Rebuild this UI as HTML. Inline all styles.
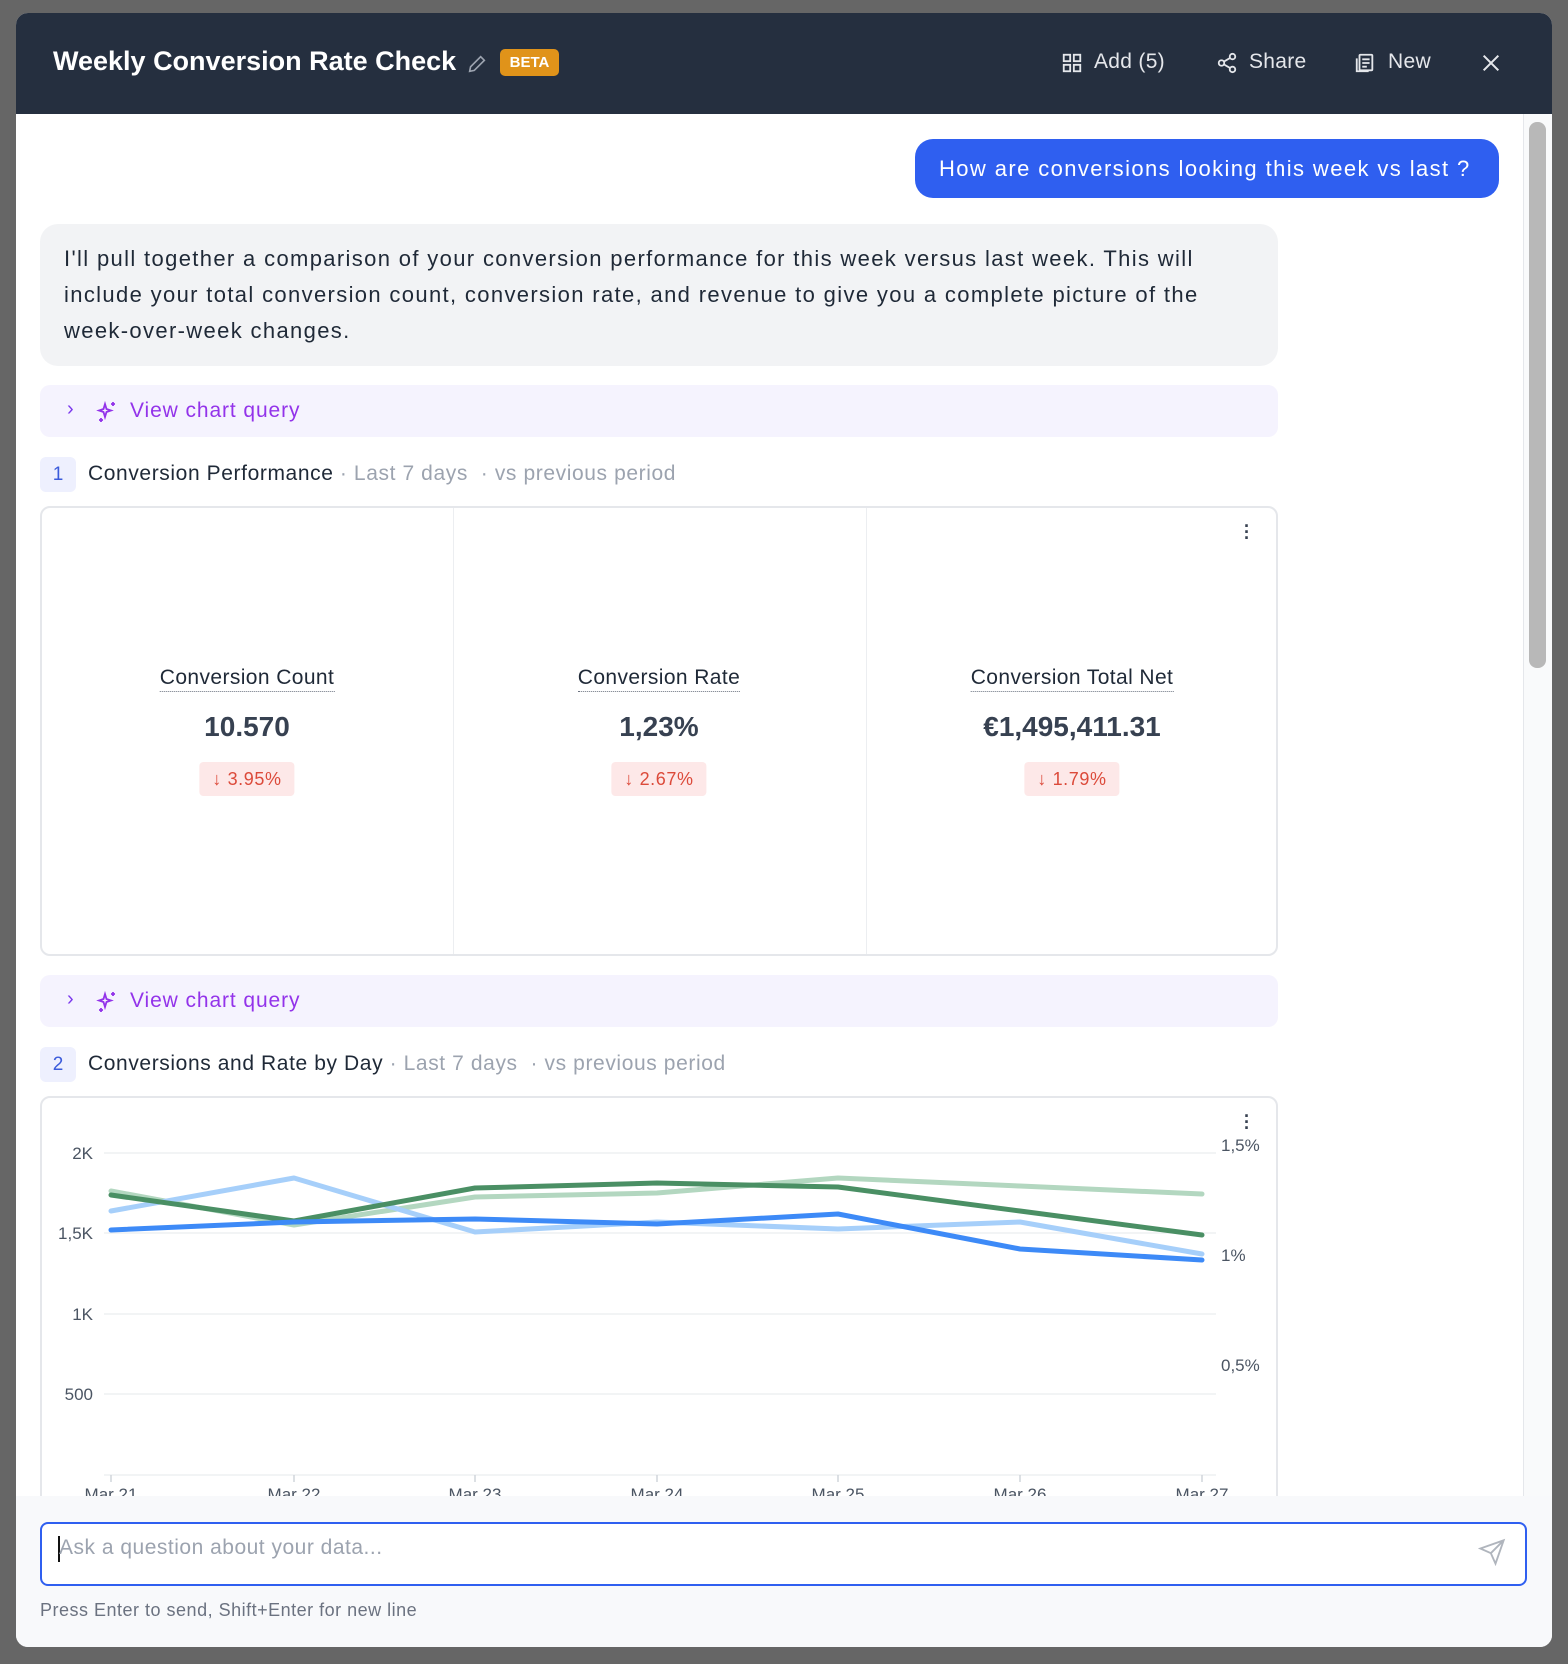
<!DOCTYPE html>
<html><head><meta charset="utf-8"><style>
*{box-sizing:border-box;margin:0;padding:0}
body{width:1568px;height:1664px;background:#666;font-family:"Liberation Sans",sans-serif;position:relative;overflow:hidden}
.a{position:absolute}
.modal{left:16px;top:13px;width:1536px;height:1634px;background:#fff;border-radius:12px;overflow:hidden}
.hdr{left:0;top:0;width:1536px;height:101px;background:#252f3f}
.t{white-space:nowrap}
.badge{background:#eef0fe;color:#3b5bdb;border-radius:6px;width:36px;height:35px;text-align:center;line-height:35px;font-size:19px}
.vq{background:#f5f3fe;border-radius:10px;width:1238px;height:52px}
.sec{font-size:21px;color:#1f2937;letter-spacing:0.6px}
.sec span{color:#9ca3af}
.lab{font-size:21px;color:#1f2937;border-bottom:1.5px dotted #6b7280;transform:translateX(-50%);padding-bottom:1px;letter-spacing:0.4px}
.val{font-size:28px;font-weight:bold;color:#374151;transform:translateX(-50%)}
.chg{background:#fde8e8;color:#dc4a3a;font-size:18px;height:34px;line-height:34px;padding:0 13px;border-radius:4px;transform:translateX(-50%);letter-spacing:0.6px}
.hb{color:#e5e7eb;font-size:21px;letter-spacing:0.3px}
</style></head><body>
<div class="a modal">
 <div class="a hdr"></div>
 <div class="a t" style="left:37px;top:33px;font-size:27px;font-weight:bold;color:#fff">Weekly Conversion Rate Check</div>
 <svg class="a" style="left:450px;top:40px" width="22" height="22" viewBox="0 0 24 24" fill="none" stroke="#9ca3af" stroke-width="1.8"><path d="M4 20l1-5L16 4l4 4L9 19z"/></svg>
 <div class="a" style="left:484px;top:36px;width:59px;height:27px;background:#e0931a;border-radius:5px;color:#fff;font-size:15px;font-weight:bold;text-align:center;line-height:27px">BETA</div>
 <svg class="a" style="left:1045px;top:39px" width="22" height="22" viewBox="0 0 24 24" fill="none" stroke="#e5e7eb" stroke-width="2"><rect x="3" y="3" width="7" height="7"/><rect x="14" y="3" width="7" height="7"/><rect x="3" y="14" width="7" height="7"/><rect x="14" y="14" width="7" height="7"/></svg>
 <div class="a t hb" style="left:1078px;top:37px">Add (5)</div>
 <svg class="a" style="left:1200px;top:39px" width="22" height="22" viewBox="0 0 24 24" fill="none" stroke="#e5e7eb" stroke-width="2"><circle cx="18" cy="5" r="3"/><circle cx="6" cy="12" r="3"/><circle cx="18" cy="19" r="3"/><path d="M8.6 13.5l6.8 4M15.4 6.5l-6.8 4"/></svg>
 <div class="a t hb" style="left:1233px;top:37px">Share</div>
 <svg class="a" style="left:1338px;top:39px" width="22" height="22" viewBox="0 0 24 24" fill="none" stroke="#e5e7eb" stroke-width="2"><rect x="6" y="3" width="14" height="17" rx="1"/><path d="M3 7v14h13M9 8h8M9 12h8M9 16h5"/></svg>
 <div class="a t hb" style="left:1372px;top:37px">New</div>
 <svg class="a" style="left:1464px;top:39px" width="22" height="22" viewBox="0 0 24 24" stroke="#e5e7eb" stroke-width="2.2"><path d="M4 4l16 16M20 4L4 20"/></svg>
 <div class="a" style="left:1507px;top:101px;width:29px;height:1400px;background:#f9fafb;border-left:1px solid #e5e7eb"></div>
 <div class="a" style="left:1513px;top:109px;width:17px;height:546px;background:#b8b8b8;border-radius:8px"></div>
 <div class="a t" style="left:899px;top:126px;width:584px;height:59px;background:#2f5ff0;border-radius:18px;color:#fff;font-size:22px;line-height:59px;padding-left:24px;letter-spacing:1.4px">How are conversions looking this week vs last ?</div>
 <div class="a t" style="left:24px;top:211px;width:1238px;height:142px;background:#f2f3f5;border-radius:18px;padding:17px 24px;font-size:22px;line-height:36px;color:#1f2937;letter-spacing:1.35px">I'll pull together a comparison of your conversion performance for this week versus last week. This will<br>include your total conversion count, conversion rate, and revenue to give you a complete picture of the<br>week-over-week changes.</div>
 <div class="a vq" style="left:24px;top:372px"></div>
 <div class="a t" style="left:51px;top:385px;color:#7c3aed;font-size:20px">›</div>
 <svg class="a" style="left:79px;top:387px" width="24" height="24" viewBox="0 0 24 24" fill="none" stroke="#9333ea" stroke-width="1.8"><path d="M10 4l1.5 5L16 10.5 11.5 12 10 17 8.5 12 4 10.5 8.5 9z"/><path d="M18 2v4M16 4h4M6 18v4M4 20h4"/></svg>
 <div class="a t" style="left:114px;top:386px;color:#9333ea;font-size:21px;letter-spacing:0.9px">View chart query</div>
 <div class="a badge" style="left:24px;top:444px">1</div>
 <div class="a t sec" style="left:72px;top:449px">Conversion Performance <span> · Last 7 days &nbsp;· vs previous period</span></div>
 <div class="a" style="left:24px;top:493px;width:1238px;height:450px;border:2px solid #e5e7eb;border-radius:10px"></div>
 <div class="a" style="left:437px;top:495px;width:1px;height:446px;background:#eceef1"></div>
 <div class="a" style="left:850px;top:495px;width:1px;height:446px;background:#eceef1"></div>
 <div class="a t" style="left:1228px;top:510px;font-size:18px;font-weight:bold;color:#374151;line-height:6px">·<br>·<br>·</div>
 <div class="a t lab" style="left:231px;top:653px">Conversion Count</div>
 <div class="a t lab" style="left:643px;top:653px">Conversion Rate</div>
 <div class="a t lab" style="left:1056px;top:653px">Conversion Total Net</div>
 <div class="a t val" style="left:231px;top:698px">10.570</div>
 <div class="a t val" style="left:643px;top:698px">1,23%</div>
 <div class="a t val" style="left:1056px;top:698px">€1,495,411.31</div>
 <div class="a t chg" style="left:231px;top:749px">↓ 3.95%</div>
 <div class="a t chg" style="left:643px;top:749px">↓ 2.67%</div>
 <div class="a t chg" style="left:1056px;top:749px">↓ 1.79%</div>
 <div class="a vq" style="left:24px;top:962px"></div>
 <div class="a t" style="left:51px;top:975px;color:#7c3aed;font-size:20px">›</div>
 <svg class="a" style="left:79px;top:977px" width="24" height="24" viewBox="0 0 24 24" fill="none" stroke="#9333ea" stroke-width="1.8"><path d="M10 4l1.5 5L16 10.5 11.5 12 10 17 8.5 12 4 10.5 8.5 9z"/><path d="M18 2v4M16 4h4M6 18v4M4 20h4"/></svg>
 <div class="a t" style="left:114px;top:976px;color:#9333ea;font-size:21px;letter-spacing:0.9px">View chart query</div>
 <div class="a badge" style="left:24px;top:1034px">2</div>
 <div class="a t sec" style="left:72px;top:1039px">Conversions and Rate by Day <span> · Last 7 days &nbsp;· vs previous period</span></div>
 <div class="a" style="left:24px;top:1083px;width:1238px;height:500px;border:2px solid #e5e7eb;border-radius:10px"></div>
 <div class="a t" style="left:1228px;top:1100px;font-size:18px;font-weight:bold;color:#374151;line-height:6px">·<br>·<br>·</div>
</div>
<svg class="a" style="left:0;top:0" width="1568" height="1664">
 <g stroke="#eef0f2" stroke-width="1.5">
  <line x1="104" y1="1153" x2="1216" y2="1153"/><line x1="104" y1="1233" x2="1216" y2="1233"/>
  <line x1="104" y1="1314" x2="1216" y2="1314"/><line x1="104" y1="1394" x2="1216" y2="1394"/>
  <line x1="104" y1="1475" x2="1216" y2="1475"/>
 </g>
 <g stroke="#d1d5db" stroke-width="1.5">
  <line x1="111" y1="1475" x2="111" y2="1482"/><line x1="294" y1="1475" x2="294" y2="1482"/><line x1="475" y1="1475" x2="475" y2="1482"/><line x1="657" y1="1475" x2="657" y2="1482"/><line x1="838" y1="1475" x2="838" y2="1482"/><line x1="1020" y1="1475" x2="1020" y2="1482"/><line x1="1202" y1="1475" x2="1202" y2="1482"/>
 </g>
 <g font-family="Liberation Sans" font-size="17" fill="#4b5563">
  <text x="93" y="1159" text-anchor="end">2K</text><text x="93" y="1239" text-anchor="end">1,5K</text>
  <text x="93" y="1320" text-anchor="end">1K</text><text x="93" y="1400" text-anchor="end">500</text>
  <text x="1221" y="1151">1,5%</text><text x="1221" y="1261">1%</text><text x="1221" y="1371">0,5%</text>
  <g text-anchor="middle"><text x="111" y="1500">Mar 21</text><text x="294" y="1500">Mar 22</text><text x="475" y="1500">Mar 23</text><text x="657" y="1500">Mar 24</text><text x="838" y="1500">Mar 25</text><text x="1020" y="1500">Mar 26</text><text x="1202" y="1500">Mar 27</text></g>
 </g>
 <g fill="none" stroke-width="5" stroke-linejoin="round" stroke-linecap="round">
  <polyline stroke="#b3d7c0" points="111,1191 294,1225 475,1197 657,1193 838,1178 1020,1186 1202,1194"/>
  <polyline stroke="#a6cffa" points="111,1211 294,1178 475,1232 657,1222 838,1229 1020,1222 1202,1254"/>
  <polyline stroke="#4a8f64" points="111,1195 294,1221 475,1188 657,1183 838,1187 1020,1211 1202,1235"/>
  <polyline stroke="#3d8af7" points="111,1230 294,1222 475,1219 657,1224 838,1214 1020,1249 1202,1260"/>
 </g>
</svg>
<div class="a" style="left:16px;top:1496px;width:1536px;height:151px;background:#f8f9fb;border-radius:0 0 12px 12px"></div>
<div class="a" style="left:40px;top:1522px;width:1487px;height:64px;border:2px solid #2f5ff0;border-radius:8px;background:#fff"></div>
<div class="a" style="left:58px;top:1536px;width:2px;height:26px;background:#111"></div>
<div class="a t" style="left:59px;top:1536px;font-size:21px;color:#9ca3af;letter-spacing:0.5px">Ask a question about your data...</div>
<svg class="a" style="left:1478px;top:1538px" width="28" height="28" viewBox="0 0 24 24" fill="none" stroke="#b0b5bd" stroke-width="1.6"><path d="M22 2L11 13M22 2l-7 20-4-9-9-4z"/></svg>
<div class="a t" style="left:40px;top:1600px;font-size:18px;color:#6b7280;letter-spacing:0.5px">Press Enter to send, Shift+Enter for new line</div>
</body></html>
